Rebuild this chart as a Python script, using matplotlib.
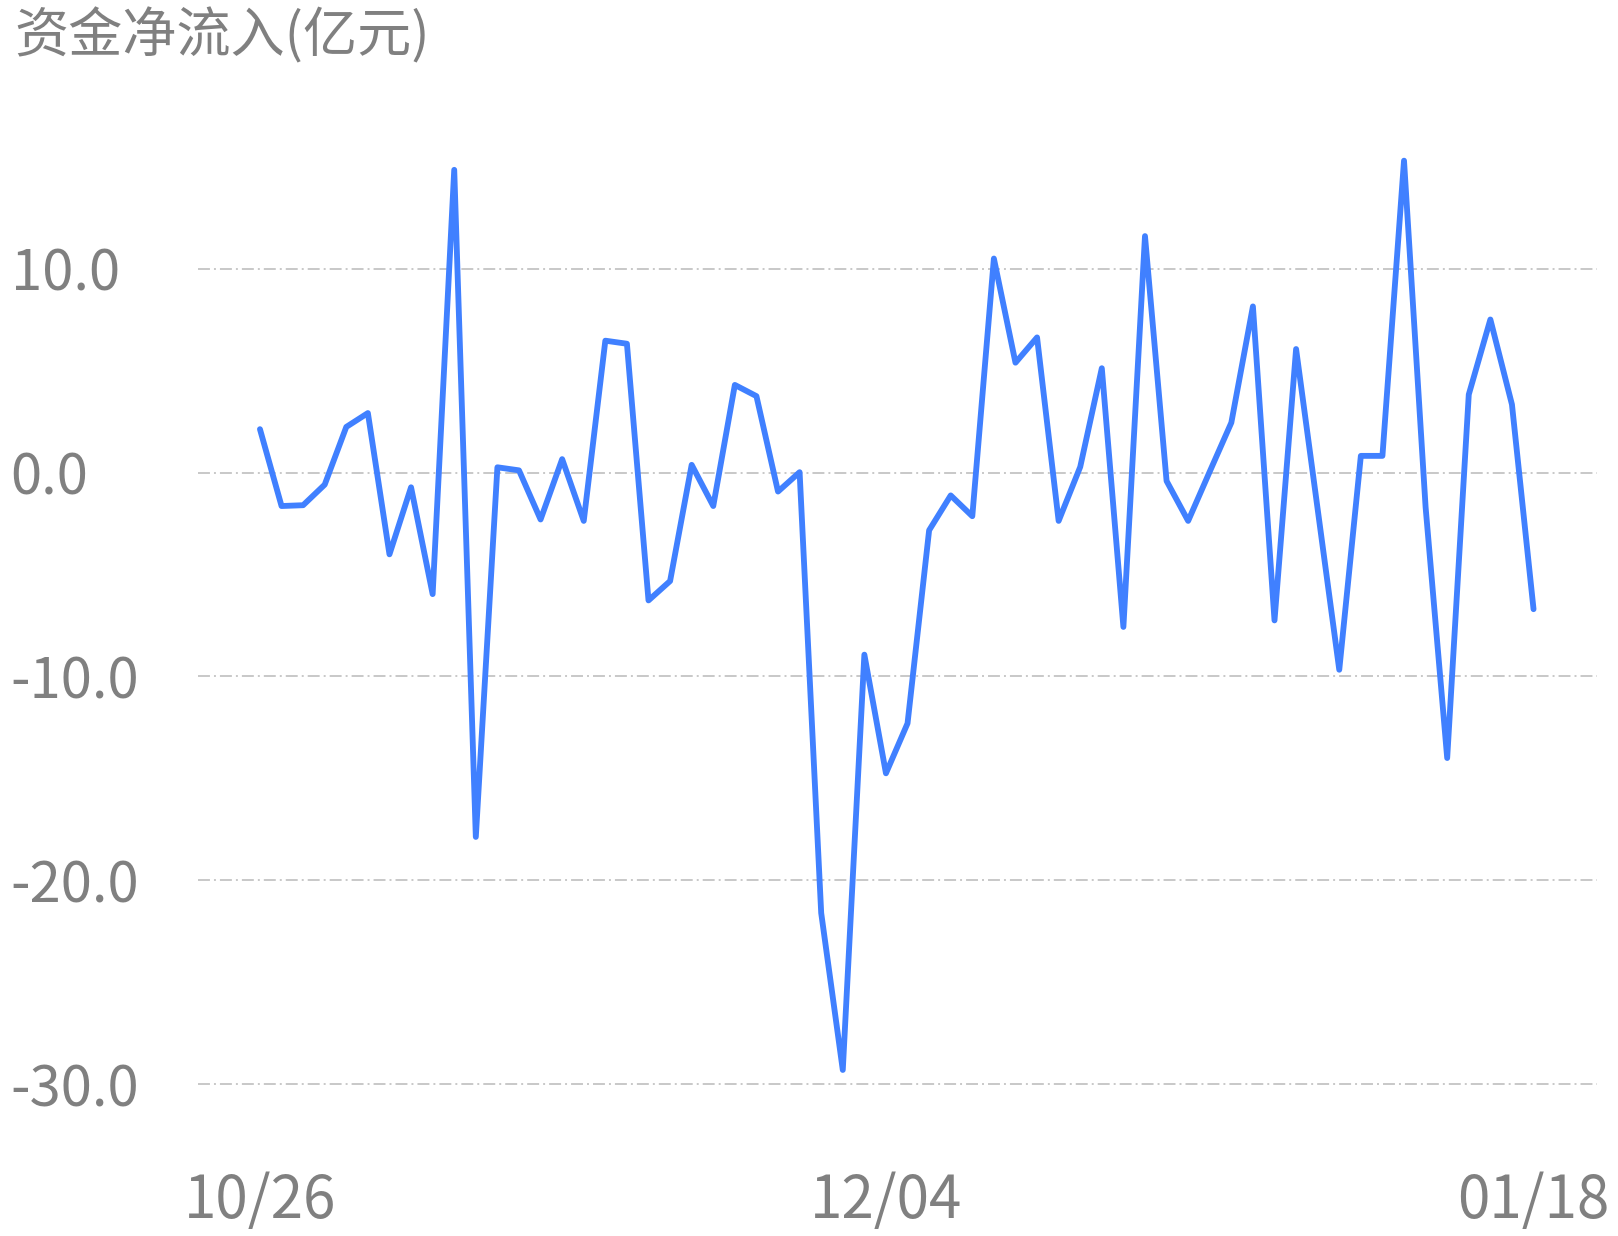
import matplotlib
matplotlib.use("Agg")
import matplotlib.pyplot as plt

plt.rcParams['font.family'] = ['Noto Sans CJK SC', 'DejaVu Sans']
plt.rcParams['lines.scale_dashes'] = False

title = "资金净流入(亿元)"
values = [2.13, -1.64, -1.60, -0.59, 2.24, 2.92, -4.01, -0.72, -5.96, 14.85,
          -17.87, 0.26, 0.11, -2.30, 0.66, -2.37, 6.47, 6.32, -6.27, -5.32,
          0.38, -1.64, 4.30, 3.75, -0.93, 0.02, -21.6, -29.3, -8.93, -14.75,
          -12.3, -2.83, -1.12, -2.14, 10.5, 5.39, 6.63, -2.37, 0.28, 5.12,
          -7.57, 11.6, -0.41, -2.37, 0.05, 2.45, 8.15, -7.25, 6.06, -1.80,
          -9.67, 0.82, 0.82, 15.3, -1.70, -14.0, 3.83, 7.51, 3.34, -6.7]
xtick_idx = [0, 29, 59]
xtick_labels = ["10/26", "12/04", "01/18"]
yticks = [10, 0, -10, -20, -30]
ytick_labels = ["10.0", "0.0", "-10.0", "-20.0", "-30.0"]

W, H = 1618, 1236
fig = plt.figure(figsize=(W / 100, H / 100), dpi=100)
ax = fig.add_axes([198 / W, 1 - 1125 / H, (1597 - 198) / W, (1125 - 126) / H])

x = list(range(len(values)))
ax.plot(x, values, color="#4080ff", lw=4.2, solid_capstyle="round",
        solid_joinstyle="round", zorder=3)

ax.set_xlim(-2.87, 61.94)
ax.set_ylim(-32, 17)
ax.set_yticks(yticks)
ax.set_yticklabels(ytick_labels, ha="left")
ax.set_xticks(xtick_idx)
ax.set_xticklabels(xtick_labels)
ax.tick_params(axis="y", length=0, pad=135, labelsize=40.5, labelcolor="#808080")
ax.tick_params(axis="x", length=0, pad=33, labelsize=42, labelcolor="#808080")
ax.grid(axis="y", color="#c8c8c8", lw=1.4, linestyle=(0, (8.6, 2.9, 1.4, 2.9)))
ax.grid(axis="x", visible=False)
for s in ax.spines.values():
    s.set_visible(False)

fig.text(14 / W, 1 - 8 / H, title, ha="left", va="top", fontsize=39, color="#808080")

fig.savefig("out.png", dpi=100)
